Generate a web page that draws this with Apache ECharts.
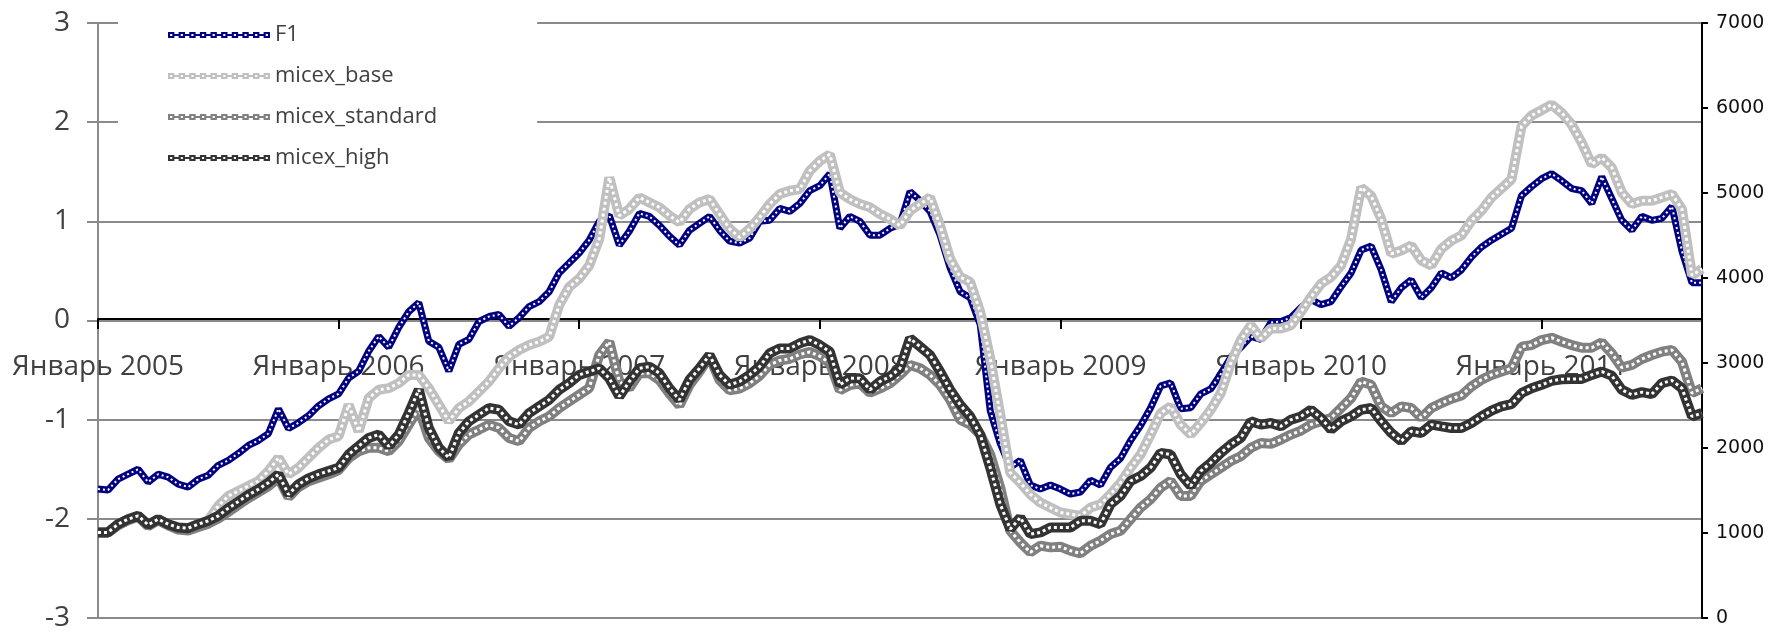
<!DOCTYPE html>
<html>
<head>
<meta charset="utf-8">
<script src="https://cdn.jsdelivr.net/npm/echarts@6.0.0/dist/echarts.min.js"></script>
<style>
  html, body { margin: 0; padding: 0; background: #fff; }
  #chart { width: 1768px; height: 632px; }
</style>
</head>
<body>
<div id="chart"></div>
<script>
// Month names used in the x-axis labels
const monthNames = ['Январь', 'Февраль', 'Март', 'Апрель', 'Май', 'Июнь',
                    'Июль', 'Август', 'Сентябрь', 'Октябрь', 'Ноябрь', 'Декабрь'];

// Semi-monthly observation dates, Jan 2005 .. Sep 2011
const categories = [];
for (let y = 2005; y <= 2011; y++) {
  for (let m = 1; m <= 12; m++) {
    for (const d of ['01', '16']) {
      if (categories.length < 161) {
        categories.push(y + '-' + String(m).padStart(2, '0') + '-' + d);
      }
    }
  }
}

// Left axis: F1 factor
const f1 = [
  -1.70, -1.71, -1.60, -1.55, -1.50, -1.63, -1.55, -1.58, -1.65, -1.68, -1.60, -1.56,
  -1.46, -1.41, -1.34, -1.26, -1.21, -1.14, -0.89, -1.09, -1.03, -0.96, -0.86, -0.79,
  -0.74, -0.58, -0.51, -0.31, -0.16, -0.27, -0.07, 0.09, 0.18, -0.21, -0.27, -0.51,
  -0.24, -0.19, -0.01, 0.04, 0.06, -0.06, 0.03, 0.14, 0.19, 0.29, 0.48, 0.58,
  0.68, 0.81, 1.00, 1.06, 0.76, 0.90, 1.08, 1.05, 0.96, 0.85, 0.76, 0.91,
  0.98, 1.05, 0.91, 0.80, 0.78, 0.83, 1.00, 1.01, 1.13, 1.10, 1.18, 1.31,
  1.36, 1.48, 0.93, 1.05, 1.00, 0.86, 0.86, 0.93, 0.97, 1.30, 1.21, 1.10,
  0.86, 0.53, 0.29, 0.23, -0.04, -0.91, -1.24, -1.48, -1.41, -1.66, -1.70, -1.66,
  -1.70, -1.75, -1.73, -1.61, -1.66, -1.48, -1.39, -1.21, -1.06, -0.88, -0.66, -0.63,
  -0.89, -0.88, -0.74, -0.69, -0.54, -0.37, -0.27, -0.16, -0.19, -0.02, -0.01, 0.03,
  0.13, 0.21, 0.16, 0.19, 0.34, 0.48, 0.71, 0.75, 0.51, 0.19, 0.33, 0.41,
  0.23, 0.33, 0.48, 0.43, 0.51, 0.64, 0.74, 0.81, 0.87, 0.93, 1.26, 1.35,
  1.43, 1.48, 1.41, 1.33, 1.31, 1.18, 1.45, 1.23, 1.01, 0.91, 1.05, 1.01,
  1.03, 1.15, 0.70, 0.38, 0.38
];

// Right axis: MICEX indices
const micexBase = [
  1007, 1007, 1100, 1160, 1200, 1090, 1160, 1100, 1060, 1050, 1100, 1150,
  1319, 1436, 1494, 1553, 1612, 1729, 1885, 1690, 1768, 1885, 2002, 2099,
  2138, 2509, 2197, 2587, 2685, 2704, 2763, 2860, 2860, 2704, 2509, 2314,
  2470, 2548, 2665, 2782, 2938, 3075, 3153, 3211, 3250, 3309, 3680, 3894,
  3992, 4148, 4460, 5182, 4733, 4811, 4948, 4889, 4831, 4733, 4655, 4811,
  4889, 4928, 4753, 4577, 4479, 4577, 4714, 4870, 4987, 5026, 5045, 5260,
  5377, 5455, 5006, 4928, 4870, 4831, 4753, 4694, 4616, 4792, 4870, 4948,
  4616, 4226, 4011, 3953, 3602, 3055, 2392, 1709, 1592, 1455, 1358, 1299,
  1241, 1221, 1202, 1299, 1338, 1455, 1592, 1768, 1924, 2158, 2411, 2489,
  2275, 2158, 2294, 2450, 2646, 2997, 3270, 3445, 3289, 3406, 3406, 3445,
  3602, 3777, 3933, 4011, 4148, 4460, 5065, 4967, 4694, 4284, 4323, 4382,
  4206, 4148, 4343, 4440, 4499, 4675, 4792, 4948, 5053, 5162, 5787, 5912,
  5974, 6040, 5943, 5806, 5592, 5338, 5416, 5299, 5006, 4870, 4909, 4909,
  4948, 4987, 4811, 4031, 4109
];

const micexStandard = [
  1007, 1007, 1090, 1150, 1190, 1080, 1150, 1090, 1040, 1030, 1070, 1110,
  1170, 1250, 1330, 1410, 1480, 1550, 1650, 1420, 1540, 1610, 1650, 1690,
  1740, 1880, 1960, 2002, 2002, 1963, 2080, 2275, 2470, 2119, 1963, 1865,
  2041, 2158, 2216, 2275, 2236, 2119, 2080, 2236, 2314, 2372, 2470, 2548,
  2626, 2704, 3094, 3250, 2782, 2704, 2880, 2880, 2800, 2640, 2500, 2740,
  2900, 3080, 2800, 2680, 2700, 2760, 2850, 2980, 3030, 3050, 3100, 3130,
  3080, 3000, 2680, 2740, 2760, 2650, 2700, 2760, 2860, 2977, 2938, 2860,
  2743, 2567, 2333, 2275, 2158, 1924, 1533, 1026, 890, 773, 851, 831,
  839, 792, 761, 851, 909, 987, 1026, 1163, 1299, 1397, 1533, 1612,
  1436, 1436, 1612, 1690, 1768, 1846, 1904, 2002, 2060, 2049, 2099, 2158,
  2205, 2275, 2314, 2353, 2470, 2587, 2782, 2743, 2489, 2411, 2489, 2470,
  2353, 2470, 2528, 2579, 2618, 2724, 2802, 2860, 2899, 2938, 3192, 3211,
  3270, 3297, 3250, 3211, 3180, 3180, 3243, 3114, 2946, 2977, 3047, 3094,
  3133, 3153, 3016, 2646, 2704
];

const micexHigh = [
  1007, 1007, 1104, 1163, 1202, 1096, 1163, 1104, 1065, 1057, 1104, 1143,
  1202, 1292, 1370, 1448, 1514, 1592, 1690, 1455, 1573, 1643, 1690, 1729,
  1768, 1924, 2021, 2119, 2158, 2021, 2158, 2411, 2685, 2236, 2002, 1885,
  2177, 2314, 2392, 2470, 2450, 2314, 2275, 2411, 2489, 2567, 2685, 2763,
  2860, 2899, 2938, 2821, 2607, 2782, 2938, 2958, 2880, 2704, 2567, 2802,
  2938, 3094, 2860, 2743, 2782, 2860, 2958, 3114, 3172, 3172, 3231, 3270,
  3211, 3133, 2743, 2821, 2821, 2685, 2782, 2841, 2938, 3289, 3192, 3094,
  2899, 2685, 2509, 2372, 2158, 1768, 1338, 1046, 1182, 987, 1007, 1065,
  1065, 1065, 1143, 1143, 1104, 1338, 1436, 1612, 1670, 1768, 1943, 1924,
  1690, 1553, 1729, 1826, 1943, 2041, 2119, 2314, 2275, 2294, 2255, 2333,
  2372, 2450, 2353, 2216, 2314, 2372, 2450, 2470, 2314, 2177, 2080, 2197,
  2177, 2275, 2255, 2236, 2236, 2294, 2372, 2439, 2489, 2517, 2646, 2704,
  2743, 2790, 2809, 2813, 2813, 2860, 2899, 2852, 2685, 2626, 2657, 2634,
  2763, 2794, 2704, 2372, 2411
];

// Axis ranges and ticks
const leftTicks = { min: -3, max: 3, interval: 1 };
const rightTicks = { min: 0, max: 7000, interval: 1000 };

// Plot box (pixels)
const plot = { left: 98, right: 66, top: 23, bottom: 11 };
const plotHeight = 632 - plot.top - plot.bottom;
// The category axis sits on the zero line of the left axis
const zeroOffset = -plotHeight * (0 - leftTicks.min) / (leftTicks.max - leftTicks.min);

// Legend icon: a chain of small hollow squares
function chainIcon(n) {
  let d = '';
  for (let k = 0; k < n; k++) {
    const x = k * 10;
    d += 'M' + x + ',0H' + (x + 6) + 'V6H' + x + 'Z';
    d += 'M' + (x + 2) + ',2V4H' + (x + 4) + 'V2Z';
    if (k < n - 1) d += 'M' + (x + 6) + ',2H' + (x + 10) + 'V4H' + (x + 6) + 'Z';
  }
  return 'path://' + d;
}
const CHAIN = chainIcon(10);

const isJanuary = (idx, val) => String(val).slice(5) === '01-01';

// A series is drawn as a thick coloured band with a dashed white core,
// giving the look of a string of hollow square markers.
function band(name, data, color, yAxisIndex, width, core, dash) {
  return [
    {
      name, type: 'line', data, yAxisIndex,
      showSymbol: false, symbol: 'none', animation: false,
      itemStyle: { color },
      lineStyle: { color, width, join: 'bevel', cap: 'butt' },
      emphasis: { disabled: true }
    },
    {
      name, type: 'line', data, yAxisIndex,
      showSymbol: false, symbol: 'none', animation: false,
      itemStyle: { color },
      lineStyle: { color: '#ffffff', width: core, type: dash, join: 'bevel', cap: 'butt' },
      emphasis: { disabled: true }
    }
  ];
}

const chart = echarts.init(document.getElementById('chart'), null, { renderer: 'canvas' });

chart.setOption({
  backgroundColor: '#ffffff',
  animation: false,
  grid: { left: plot.left, right: plot.right, top: plot.top, bottom: plot.bottom, containLabel: false },
  legend: {
    orient: 'vertical',
    left: 118,
    top: 0,
    padding: [23, 100, 14, 50],
    backgroundColor: '#ffffff',
    itemWidth: 102,
    itemHeight: 6,
    itemGap: 17,
    symbolKeepAspect: false,
    selectedMode: false,
    textStyle: { fontFamily: 'Open Sans', fontSize: 22, color: '#404040', lineHeight: 24 },
    data: [
      { name: 'F1', icon: CHAIN, itemStyle: { color: '#000080' } },
      { name: 'micex_base', icon: CHAIN, itemStyle: { color: '#c0c0c0' } },
      { name: 'micex_standard', icon: CHAIN, itemStyle: { color: '#808080' } },
      { name: 'micex_high', icon: CHAIN, itemStyle: { color: '#333333' } }
    ]
  },
  xAxis: {
    type: 'category',
    data: categories,
    boundaryGap: false,
    position: 'bottom',
    offset: zeroOffset,
    axisLine: { onZero: false, lineStyle: { color: '#000000', width: 2 } },
    axisTick: { show: true, interval: isJanuary, length: 10, lineStyle: { color: '#000000', width: 2 } },
    axisLabel: {
      interval: isJanuary,
      margin: 34,
      fontFamily: 'Open Sans',
      fontSize: 28,
      color: '#404040',
      formatter: v => monthNames[parseInt(v.slice(5, 7), 10) - 1] + ' ' + v.slice(0, 4)
    },
    splitLine: { show: false }
  },
  yAxis: [
    {
      type: 'value',
      position: 'left',
      min: leftTicks.min, max: leftTicks.max, interval: leftTicks.interval,
      axisLine: { show: true, onZero: false, lineStyle: { color: '#8a8a8a', width: 2 } },
      axisTick: { show: true, length: 11, lineStyle: { color: '#8a8a8a', width: 2 } },
      axisLabel: { margin: 28, fontFamily: 'Open Sans', fontSize: 28, color: '#404040' },
      splitLine: { show: true, lineStyle: { color: '#8a8a8a', width: 2 } }
    },
    {
      type: 'value',
      position: 'right',
      min: rightTicks.min, max: rightTicks.max, interval: rightTicks.interval,
      axisLine: { show: true, onZero: false, lineStyle: { color: '#000000', width: 2 } },
      axisTick: { show: true, length: 6, lineStyle: { color: '#000000', width: 2 } },
      axisLabel: { margin: 14, fontFamily: 'DejaVu Sans', fontSize: 19, color: '#111111', formatter: v => String(v) },
      splitLine: { show: false }
    }
  ],
  series: [
    ...band('F1', f1, '#000080', 0, 7, 2, [2, 3]),
    ...band('micex_base', micexBase, '#c0c0c0', 1, 10, 3, [3, 3]),
    ...band('micex_standard', micexStandard, '#808080', 1, 10, 3, [3, 3]),
    ...band('micex_high', micexHigh, '#333333', 1, 10, 3, [3, 3])
  ]
});
</script>
</body>
</html>
